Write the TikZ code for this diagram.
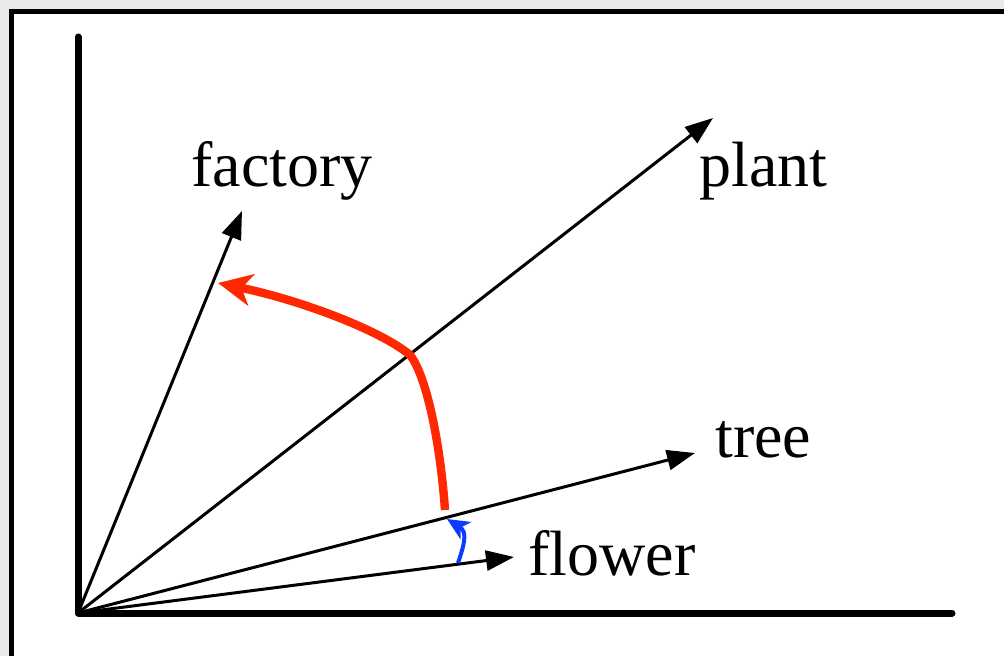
\documentclass[tikz,border=0pt]{standalone}
\usepackage{fontspec}
\setmainfont{Liberation Serif}
\usetikzlibrary{arrows.meta,positioning}
\definecolor{vecRed}{RGB}{255,40,0}
\definecolor{vecBlue}{RGB}{10,60,255}
\definecolor{shadeGray}{RGB}{234,234,234}

\tikzset{
  axisline/.style={line width=3.5pt, line cap=round, line join=round},
  wordvec/.style={line width=1.5pt, -{Triangle[length=14pt,width=10pt]}},
  wordlabel/.style={font=\fontsize{32}{38}\selectfont, inner sep=0pt, anchor=base west},
}

\begin{document}
\begin{tikzpicture}[x=0.5pt,y=-0.5pt]
    \useasboundingbox (0,0) rectangle (1004,656);

    % Shaded surround and frame
    \fill[shadeGray] (0,0) rectangle (1004,656);
    \draw[line width=2.5pt, fill=white] (11,12) rectangle (1030,680);

    % Axes
    \coordinate (origin) at (78,613);
    \coordinate (ytop) at (78,37);
    \coordinate (xend) at (952,613);
    \draw[axisline] (ytop) -- (origin) -- (xend);

    % Word vectors
    \coordinate (factory) at (242,211);
    \coordinate (plant) at (713,118);
    \coordinate (tree) at (695,453);
    \coordinate (flower) at (514,557);
    \draw[wordvec] (origin) -- (factory);
    \draw[wordvec] (origin) -- (plant);
    \draw[wordvec] (origin) -- (tree);
    \draw[wordvec] (origin) -- (flower);

    % Labels
    \node[wordlabel] (factorylabel) at (191,187) {factory};
    \node[wordlabel] (plantlabel) at (699,187) {plant};
    \node[wordlabel] (treelabel) at (715,458) {tree};
    \node[wordlabel] (flowerlabel) at (528,575) {flower};

    % Large shift (red) and small shift (blue)
    \coordinate (redstart) at (445,510);
    \coordinate (redbend) at (410,355);
    \coordinate (redtip) at (218,283);
    \draw[line width=4.2pt, vecRed, -{Stealth[length=17pt,width=16pt,inset=5pt]}]
      (redstart) .. controls (440,440) and (426,375) .. (redbend)
      .. controls (380,330) and (300,300) .. (redtip);

    \coordinate (bluestart) at (458,563);
    \coordinate (bluetip) at (447,519);
    \draw[line width=2pt, vecBlue, -{Stealth[length=11pt,width=10pt,inset=3pt]}]
      (bluestart) .. controls (464,545) and (468,532) .. (bluetip);
  \end{tikzpicture}
\end{document}
